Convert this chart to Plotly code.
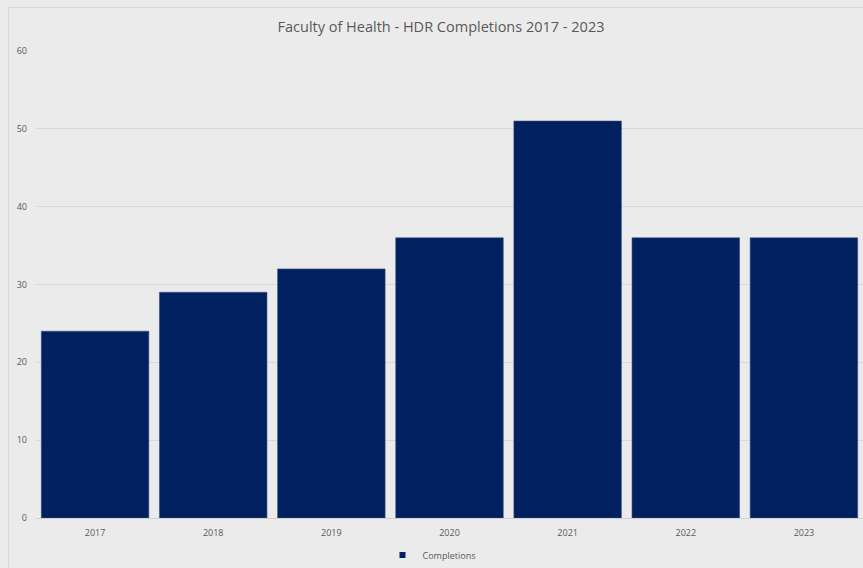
import plotly.graph_objects as go

years = ["2017", "2018", "2019", "2020", "2021", "2022", "2023"]
completions = [24, 29, 32, 36, 51, 36, 36]

W, H = 863, 568
ML, MR, MT, MB = 36, 0, 51, 50
pw = W - ML - MR
ph = H - MT - MB
BAR = "#002060"

fig = go.Figure()
fig.add_trace(go.Bar(
    x=years, y=completions, name="Completions",
    marker=dict(color=BAR, line=dict(color="#3a5080", width=0.6)),
    showlegend=False,
))
# legend entry with a small square symbol
fig.add_trace(go.Scatter(
    x=[None], y=[None], name="Completions", mode="markers",
    marker=dict(symbol="square", size=6, color=BAR),
    showlegend=True, hoverinfo="skip",
))

def px_to_paper_x(px):
    return (px - ML) / pw

def px_to_paper_y(py):
    return (H - MB - py) / ph

fig.update_layout(
    width=W, height=H,
    margin=dict(l=ML, r=MR, t=MT, b=MB),
    paper_bgcolor="#ebebeb", plot_bgcolor="#ebebeb",
    font=dict(family="Open Sans", color="#595959", size=9),
    title=dict(text="Faculty of Health - HDR Completions 2017 - 2023",
               x=(441 - ML) / pw, xref="paper", xanchor="center",
               y=1 - 27 / H, yanchor="middle",
               font=dict(size=14.5, color="#595959")),
    bargap=0.09,
    showlegend=True,
    legend=dict(orientation="h", x=0.5, xref="container", xanchor="center",
                y=1 - 555 / H, yref="container", yanchor="middle",
                font=dict(size=9, color="#595959"), itemwidth=30,
                bgcolor="rgba(0,0,0,0)"),
    xaxis=dict(showgrid=False, ticks="", showline=True, linecolor="#d0d0d0",
               linewidth=1, tickfont=dict(size=9, color="#595959"),
               ticklabelstandoff=6),
    yaxis=dict(range=[0, 60], dtick=10, showgrid=True, gridcolor="#d9d9d9",
               gridwidth=1, zeroline=False, ticks="",
               tickfont=dict(size=9, color="#595959"), ticklabelstandoff=8),
    shapes=[dict(type="rect", xref="paper", yref="paper",
                 x0=px_to_paper_x(8.5), x1=px_to_paper_x(W + 5),
                 y0=px_to_paper_y(H + 5), y1=px_to_paper_y(7.5),
                 line=dict(color="#d6d6d6", width=1), layer="below")],
)

fig.write_html("out.html")
